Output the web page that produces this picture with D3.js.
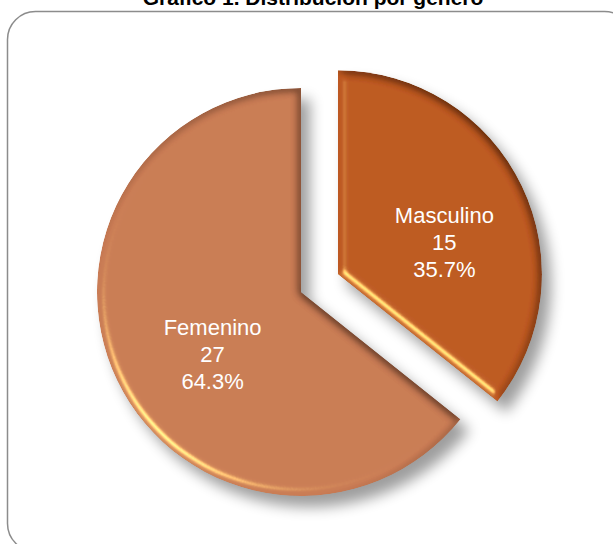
<!doctype html>
<html lang="es">
<head>
<meta charset="utf-8">
<title>Gráfico 1</title>
<style>
html, body {
	margin: 0;
	padding: 0;
	background: #fff;
}
svg {
	display: block;
	font-family: 'Liberation Sans', Arial, sans-serif;
}
</style>
</head>
<body>
<svg id="chart" width="613" height="544"></svg>
<script src="https://cdnjs.cloudflare.com/ajax/libs/d3/7.8.5/d3.min.js"></script>
<script>
// data
var categories = ['Masculino', 'Femenino'];
var counts = [15, 27];
var fills = ['#bd5820', '#c97b54'];
var title = 'Gráfico 1. Distribución por género';

(function (d3) {
	'use strict';

	var CX = 301, CY = 292, R = 204;
	var EXPLODE = 41;

	var svg = d3.select('#chart');
	var defs = svg.append('defs');

	// soft drop shadow
	var sh = defs.append('filter').attr('id', 'shadow')
		.attr('x', '-20%').attr('y', '-20%').attr('width', '140%').attr('height', '140%');
	sh.append('feGaussianBlur').attr('stdDeviation', 7);

	// bevel: diffuse darkening + warm specular highlight, clipped to shape
	var bv = defs.append('filter').attr('id', 'bevel')
		.attr('x', '-5%').attr('y', '-5%').attr('width', '110%').attr('height', '110%');
	bv.append('feGaussianBlur').attr('in', 'SourceAlpha').attr('stdDeviation', 4.5).attr('result', 'blur');
	var dl = bv.append('feDiffuseLighting').attr('in', 'blur').attr('surfaceScale', 5)
		.attr('diffuseConstant', 1.16).attr('lighting-color', '#ffffff').attr('result', 'diff');
	dl.append('feDistantLight').attr('azimuth', 135).attr('elevation', 60);
	bv.append('feComposite').attr('in', 'SourceGraphic').attr('in2', 'diff')
		.attr('operator', 'arithmetic').attr('k1', 1).attr('k2', 0).attr('k3', 0).attr('k4', 0)
		.attr('result', 'shade');
	var sp = bv.append('feSpecularLighting').attr('in', 'blur').attr('surfaceScale', 6)
		.attr('specularConstant', 1.2).attr('specularExponent', 40)
		.attr('lighting-color', '#ffe27a').attr('result', 'spec');
	sp.append('feDistantLight').attr('azimuth', 135).attr('elevation', 35);
	bv.append('feComposite').attr('in', 'spec').attr('in2', 'SourceAlpha')
		.attr('operator', 'in').attr('result', 'specIn');
	bv.append('feComposite').attr('in', 'shade').attr('in2', 'specIn')
		.attr('operator', 'arithmetic').attr('k1', 0).attr('k2', 1).attr('k3', 0.8).attr('k4', 0)
		.attr('result', 'lit');
	bv.append('feComposite').attr('in', 'lit').attr('in2', 'SourceAlpha').attr('operator', 'in');

	// frame
	svg.append('rect')
		.attr('x', 7.5).attr('y', 11.5)
		.attr('width', 625).attr('height', 540)
		.attr('rx', 28).attr('ry', 28)
		.attr('fill', 'none')
		.attr('stroke', '#8c8c8c')
		.attr('stroke-width', 1.5);

	// title (cut at the top edge, as in the source image)
	svg.append('text')
		.attr('x', 313).attr('y', 5)
		.attr('text-anchor', 'middle')
		.attr('font-weight', 'bold')
		.attr('font-size', 21)
		.attr('fill', '#000')
		.text(title);

	var total = d3.sum(counts);
	var data = categories.map(function (c, i) {
		return { name: c, value: counts[i], color: fills[i] };
	});

	var pie = d3.pie().sort(null).value(function (d) { return d.value; });
	var arcs = pie(data);
	var arc = d3.arc().innerRadius(0).outerRadius(R);
	var labelArc = d3.arc().innerRadius(R * 0.53).outerRadius(R * 0.53);

	var offset = function (d, i) {
		if (i !== 0) { return [0, 0]; }
		var a = (d.startAngle + d.endAngle) / 2;
		return [Math.sin(a) * EXPLODE, -Math.cos(a) * EXPLODE];
	};

	var g = svg.append('g').attr('transform', 'translate(' + CX + ',' + CY + ')');

	// shadows
	g.selectAll('path.shadow').data(arcs).enter()
		.append('path')
		.attr('class', 'shadow')
		.attr('d', arc)
		.attr('fill', '#000')
		.attr('opacity', 0.38)
		.attr('filter', 'url(#shadow)')
		.attr('transform', function (d, i) {
			var o = offset(d, i);
			return 'translate(' + (o[0] + 9) + ',' + (o[1] + 11) + ')';
		});

	// slices
	g.selectAll('path.slice').data(arcs).enter()
		.append('path')
		.attr('class', 'slice')
		.attr('d', arc)
		.attr('fill', function (d) { return d.data.color; })
		.attr('filter', 'url(#bevel)')
		.attr('transform', function (d, i) {
			var o = offset(d, i);
			return 'translate(' + o[0] + ',' + o[1] + ')';
		});

	// labels
	var lab = g.selectAll('text.lab').data(arcs).enter()
		.append('text')
		.attr('class', 'lab')
		.attr('text-anchor', 'middle')
		.attr('font-size', 22)
		.attr('fill', '#fff')
		.attr('transform', function (d, i) {
			var o = offset(d, i);
			var c = labelArc.centroid(d);
			return 'translate(' + (c[0] + o[0] + 9) + ',' + (c[1] + o[1] + 16) + ')';
		});

	lab.each(function (d) {
		var t = d3.select(this);
		var lines = [d.data.name, String(d.data.value), (d.data.value / total * 100).toFixed(1) + '%'];
		lines.forEach(function (s, k) {
			t.append('tspan')
				.attr('x', 0)
				.attr('y', (k - 1) * 27 + 7)
				.text(s);
		});
	});

})(window.d3);
</script>
</body>
</html>
